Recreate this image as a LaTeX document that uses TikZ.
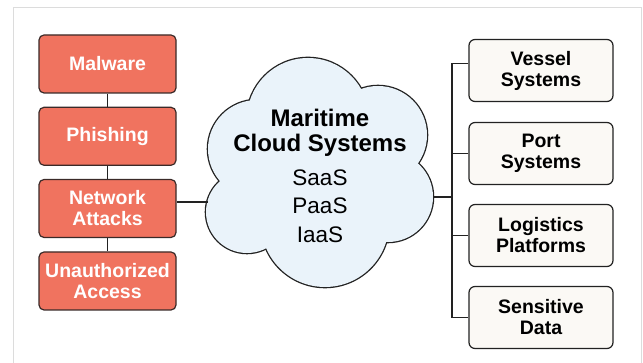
\documentclass[tikz,border=0pt]{standalone}
\usepackage{fontspec}
\setmainfont{Liberation Sans}
\definecolor{threat}{HTML}{F0735F}
\definecolor{threatline}{HTML}{3A2A28}
\definecolor{assetfill}{HTML}{FBF9F5}
\definecolor{cloudfill}{HTML}{EAF3FA}
\definecolor{framegray}{HTML}{DCDCDC}
\definecolor{inkline}{HTML}{222222}
\tikzset{
  threatbox/.style={draw=threatline, fill=threat, line width=1.2pt, rounded corners=5pt,
    minimum width=137pt, minimum height=58pt, inner sep=0pt, align=center, text=white,
    font=\fontsize{19.5}{21}\selectfont\bfseries},
  assetbox/.style={draw=inkline, fill=assetfill, line width=1.2pt, rounded corners=6pt,
    minimum width=144pt, minimum height=62pt, inner sep=0pt, align=center,
    font=\fontsize{19.5}{21}\selectfont\bfseries},
  link/.style={draw=inkline, line width=1.2pt},
}
\begin{document}
\begin{tikzpicture}[x=1pt, y=1pt]
  \useasboundingbox (0,0) rectangle (643,363);
  \fill[white] (0,0) rectangle (643,363);
  % outer panel edge
  \draw[framegray, line width=1pt] (13,0) -- (13,355) -- (641,355) -- (641,0);

  % cloud: union of lobes, outline drawn wide and then covered by the fill
  \foreach \cx/\cy/\r in {308/244/61, 257/214/49, 247/151/41, 325/140/64, 388/166/45, 378/228/49}
    \draw[inkline, line width=2.6pt] (\cx,\cy) circle[radius=\r pt];
  \foreach \cx/\cy/\r in {308/244/61, 257/214/49, 247/151/41, 325/140/64, 388/166/45, 378/228/49}
    \fill[cloudfill] (\cx,\cy) circle[radius=\r pt];
  \fill[cloudfill] (308,244) -- (257,214) -- (247,151) -- (325,140) -- (388,166) -- (378,228) -- cycle;
  \coordinate (cloudW) at (207.5,161);
  \coordinate (cloudE) at (433,166);
  \node[font=\fontsize{24}{25}\selectfont\bfseries, align=center] (cloudtitle) at (320,230)
    {Maritime\\Cloud Systems};
  \node[font=\fontsize{22.5}{28.5}\selectfont, align=center] (services) at (320,157)
    {SaaS\\PaaS\\IaaS};

  % threats
  \node[threatbox] (malware)  at (107.5,299)   {Malware};
  \node[threatbox] (phishing) at (107.5,226.7) {Phishing};
  \node[threatbox] (network)  at (107.5,154.5) {Network\\Attacks};
  \node[threatbox] (unauth)   at (107.5,82)    {Unauthorized\\Access};

  % assets
  \node[assetbox] (vessel)    at (541,292.5) {Vessel\\Systems};
  \node[assetbox] (port)      at (541,209.5) {Port\\Systems};
  \node[assetbox] (logistics) at (541,127.5) {Logistics\\Platforms};
  \node[assetbox] (sensitive) at (541,45.5)  {Sensitive\\Data};

  % connectors
  \draw[link] (malware) -- (phishing);
  \draw[link] (phishing) -- (network);
  \draw[link] (network) -- (unauth);
  \draw[link] (cloudW) -- (cloudW -| network.east);

  \coordinate (bus) at (452,166);
  \draw[link] (cloudE) -- (bus);
  \draw[link] ([yshift=7pt]vessel.west) -| (bus |- sensitive.west) -- (sensitive.west);
  \draw[link] (port.west) -- (port.west -| bus);
  \draw[link] (logistics.west) -- (logistics.west -| bus);
\end{tikzpicture}
\end{document}
